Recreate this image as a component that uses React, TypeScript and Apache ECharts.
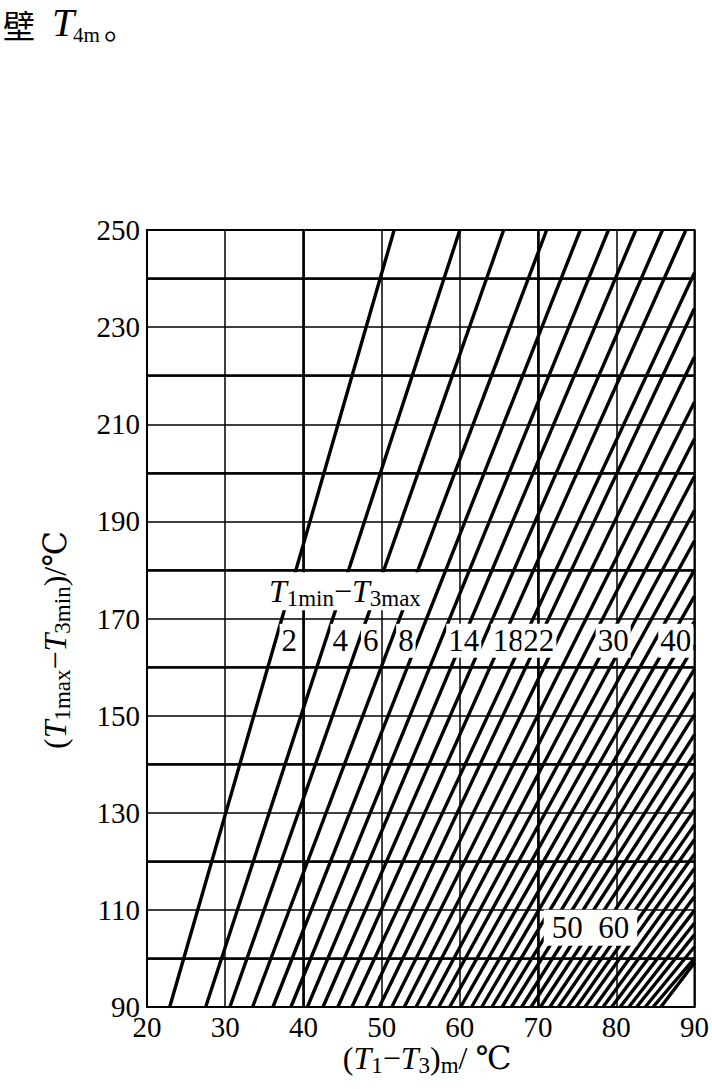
import { useEffect, useRef } from "react";
import * as echarts from "echarts";

// ---- axis definitions ----
const xMin = 20;
const xMax = 90;
const yMin = 90;
const yMax = 250;
const xTickLabels = [20, 30, 40, 50, 60, 70, 80, 90];
const yTickLabels = [90, 110, 130, 150, 170, 190, 210, 230, 250];
const thickYGrid = [100, 120, 140, 160, 180, 200, 220, 240];
const thickXGrid = [40, 70];

// ---- curve family: (T1min - T3min) parameter ----
const deltaMin = [
  2, 4, 6, 8, 10, 12, 14, 16, 18, 20, 22, 24, 26, 28, 30, 32, 34, 36, 38, 40, 42,
  44, 46, 48, 50, 52, 54, 56, 58, 60, 62, 64, 66, 68, 70, 72, 74, 76, 78, 80, 82,
];
// x where each curve meets the bottom edge (y = 90)
const xAtBottom = [
  22.9, 27.5, 30.6, 33.5, 36.1, 38.4, 40.5, 42.5, 44.4, 46.2, 48.0, 49.7, 51.3,
  52.9, 54.4, 55.9, 57.3, 58.7, 60.1, 61.5, 62.8, 64.1, 65.4, 66.6, 67.9, 69.1,
  70.3, 71.5, 72.6, 73.8, 74.9, 76.0, 77.2, 78.3, 79.4, 80.5, 81.6, 82.6, 83.7,
  84.7, 85.7,
];
// upper end of each curve (top edge or right edge)
const xAtEnd = [
  51.6, 60.0, 65.6, 71.1, 75.4, 79.0, 82.5, 85.9, 88.9, 90, 90, 90, 90, 90, 90,
  90, 90, 90, 90, 90, 90, 90, 90, 90, 90, 90, 90, 90, 90, 90, 90, 90, 90, 90, 90,
  90, 90, 90, 90, 90, 90,
];
const yAtEnd = [
  250, 250, 250, 250, 250, 250, 250, 250, 250, 241.2, 233.9, 223.9, 214.6, 207.0,
  199.3, 192.3, 186.0, 180.0, 174.6, 169.4, 164.5, 159.6, 154.8, 150.2, 146.1,
  142.1, 138.2, 134.3, 130.6, 127.5, 124.5, 121.5, 118.5, 115.6, 112.7, 109.9,
  107.3, 104.9, 102.4, 100.0, 99.1,
];

// ---- in-plot annotations ----
const curveLabels = ["2", "4", "6", "8", "14", "18", "22", "30", "40"];
const curveLabelX = [38.2, 44.7, 48.6, 53.1, 60.5, 66.2, 70.1, 79.6, 87.6];
const curveLabelY = 165.4;
const lowLabel = "50  60";
const lowLabelAt = [76.7, 106.3];
const headerLabelAt = [45.3, 175.6];

const SERIF =
  "'Liberation Serif', 'Times New Roman', 'DejaVu Serif', 'Noto Sans CJK SC', serif";

const richBig = {
  n: { fontFamily: SERIF, fontSize: 32, color: "#000" },
  i: { fontFamily: SERIF, fontSize: 32, fontStyle: "italic", color: "#000" },
  s: { fontFamily: SERIF, fontSize: 23, color: "#000", padding: [15, 0, 0, 0] },
};

export default function App() {
  const ref = useRef<HTMLDivElement>(null);

  useEffect(() => {
    if (!ref.current) return;
    const chart = echarts.init(ref.current, null, { renderer: "svg" });

    const curveSeries = deltaMin.map((n, i) => ({
      type: "line",
      name: "dTmin " + n,
      data: [
        [xAtBottom[i], yMin],
        [xAtEnd[i], yAtEnd[i]],
      ],
      symbol: "none",
      silent: true,
      z: 3,
      lineStyle: { color: "#000", width: 3.4 },
    }));

    const gridSeries = {
      type: "line",
      data: [],
      silent: true,
      z: 2,
      markLine: {
        silent: true,
        symbol: "none",
        label: { show: false },
        lineStyle: { color: "#000", width: 2.6, type: "solid" },
        data: [
          ...thickYGrid.map((v) => ({ yAxis: v })),
          ...thickXGrid.map((v) => ({ xAxis: v })),
        ],
      },
    };

    const labelSeries = {
      type: "scatter",
      symbolSize: 0,
      silent: true,
      z: 10,
      itemStyle: { opacity: 1 },
      data: [
        ...curveLabels.map((t, i) => ({
          value: [curveLabelX[i], curveLabelY],
          label: { formatter: t },
        })),
        {
          value: lowLabelAt,
          label: { formatter: lowLabel, padding: [3, 8, 2, 8] },
        },
        {
          value: headerLabelAt,
          label: {
            formatter: "{i|T}{s|1min}{n|−}{i|T}{s|3max}",
            rich: richBig,
            padding: [0, 4, 0, 4],
          },
        },
      ],
      label: {
        show: true,
        opacity: 1,
        position: "inside",
        color: "#000",
        fontFamily: SERIF,
        fontSize: 31,
        backgroundColor: "#fff",
        padding: [2, 2, 1, 2],
      },
    };

    const option = {
      animation: false,
      backgroundColor: "#fff",
      grid: {
        left: 147,
        right: 15,
        top: 230,
        bottom: 82,
        show: true,
        borderColor: "#000",
        borderWidth: 2,
      },
      xAxis: {
        type: "value",
        min: xMin,
        max: xMax,
        interval: 10,
        axisLine: { show: true, lineStyle: { color: "#000", width: 2 } },
        axisTick: { show: false },
        axisLabel: {
          color: "#000",
          fontSize: 29,
          lineHeight: 20,
          fontFamily: SERIF,
          margin: 10,
          showMinLabel: true,
          showMaxLabel: true,
          formatter: (v: number) => (xTickLabels.includes(v) ? String(v) : ""),
        },
        splitLine: { show: true, lineStyle: { color: "#000", width: 1.5 } },
      },
      yAxis: {
        type: "value",
        min: yMin,
        max: yMax,
        interval: 10,
        axisLine: { show: true, lineStyle: { color: "#000", width: 2 } },
        axisTick: { show: false },
        axisLabel: {
          color: "#000",
          fontSize: 29,
          lineHeight: 20,
          fontFamily: SERIF,
          margin: 7,
          showMinLabel: true,
          showMaxLabel: true,
          formatter: (v: number) => (yTickLabels.includes(v) ? String(v) : ""),
        },
        splitLine: { show: true, lineStyle: { color: "#000", width: 1.5 } },
      },
      series: [gridSeries, ...curveSeries, labelSeries],
      graphic: [
        {
          type: "text",
          left: 3,
          top: 8,
          z: 100,
          style: { text: "壁", font: "32px 'Noto Sans CJK SC'", fill: "#000" },
        },
        {
          type: "text",
          left: 52,
          top: 2,
          z: 100,
          style: {
            text: "T",
            font: "italic 40px 'Liberation Serif'",
            fill: "#000",
          },
        },
        {
          type: "text",
          left: 73,
          top: 24,
          z: 100,
          style: { text: "4m", font: "21px 'Liberation Serif'", fill: "#000" },
        },
        {
          type: "text",
          left: 104,
          top: 9,
          z: 100,
          style: { text: "。", font: "32px 'Noto Sans CJK SC'", fill: "#000" },
        },
        {
          type: "text",
          x: 55,
          y: 640,
          rotation: Math.PI / 2,
          z: 100,
          style: {
            text: "{n|(}{i|T}{s|1max}{n|−}{i|T}{s|3min}{n|)/℃}",
            rich: richBig,
            align: "center",
            verticalAlign: "middle",
          },
        },
        {
          type: "text",
          x: 427,
          y: 1058,
          z: 100,
          style: {
            text: "{n|(}{i|T}{s|1}{n|−}{i|T}{s|3}{n|)}{s|m}{n|/ ℃}",
            rich: richBig,
            align: "center",
            verticalAlign: "middle",
          },
        },
      ],
    };

    chart.setOption(option as any);
    return () => chart.dispose();
  }, []);

  return (
    <div
      ref={ref}
      style={{ position: "fixed", left: 0, top: 0, width: 712, height: 1089 }}
    />
  );
}
